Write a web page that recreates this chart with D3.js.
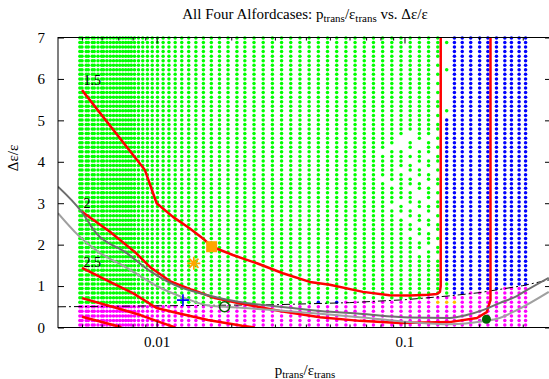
<!DOCTYPE html>
<html>
<head>
<meta charset="utf-8">
<script src="https://cdn.jsdelivr.net/npm/d3@7"></script>
<style>
  body { margin: 0; background: #fff; }
  text { font-family: "Liberation Serif", "DejaVu Serif", serif; }
</style>
</head>
<body>
<svg id="chart" width="549" height="379"></svg>
<script>
// grid of scanned (p/eps, deps/eps) cases
const rows = [0.06,0.17,0.28,0.39,0.50,0.61,0.72,0.83,0.94,1.05,1.16,1.27,1.38,1.49,1.60,1.71,
  1.82,1.93,2.04,2.15,2.26,2.37,2.48,2.59,2.70,2.81,2.92,3.03,3.14,3.25,3.36,3.47,3.58,3.69,3.80,
  3.91,4.02,4.13,4.24,4.35,4.46,4.57,4.68,4.79,4.90,5.01,5.12,5.23,5.34,5.45,5.56,5.67,5.78,5.89,
  6.00,6.11,6.22,6.33,6.44,6.55,6.66,6.77,6.88,6.99];
const denseCols = [0.0049,0.0050,0.0052,0.0053,0.0055,0.0056,0.0058,0.0060,0.0061,0.0063,0.0065,
  0.0067,0.0069,0.0071,0.0073,0.0075,0.0077,0.0079];
const mainCols = [0.00814,0.00845,0.00879,0.00918,0.00960,0.01008,0.01062,0.01121,0.01188,0.01263,
  0.01347,0.01440,0.01544,0.01662,0.01793,0.01941,0.02108,
  0.02269,0.02471,0.02691,0.02931,0.03192,0.03476,0.03786,0.04123,0.04491,0.04891,
  0.05327,0.05801,0.06318,0.06881,0.07494,0.08162,0.08889,0.09681,0.10543,0.11483,0.12506,0.1362];
const blueCols = [0.148,0.159,0.171,0.185,0.201,0.217,0.235,0.254,0.270,0.290,0.308];
const wallP = 0.140;          // red vertical of the 1.5 contour
const wallCol = 0.148, wallTop = 5.1;

// missing cases in the green field
const holes = [
  [0.1362,6.44],[0.1362,6.22],[0.1362,6.00],[0.1362,5.78],[0.1362,5.56],[0.1362,5.23],[0.1362,5.01],
  [0.1362,4.68],[0.1362,4.46],[0.1362,4.24],[0.1362,3.91],[0.1362,3.69],[0.1362,3.36],[0.1362,3.14],
  [0.1362,2.81],[0.1362,2.59],[0.1362,2.26],[0.1362,2.04],[0.1362,1.71],
  [0.1251,4.57],[0.1251,4.13],[0.1251,3.80],[0.1251,3.47],[0.1251,3.03],[0.1251,2.70],[0.1251,2.37],[0.1251,1.93],
  [0.1148,4.46],[0.1148,4.35],[0.1148,3.91],[0.1148,3.58],[0.1148,3.25],[0.1148,3.14],[0.1148,2.81],
  [0.1148,2.48],[0.1148,2.15],[0.1148,1.82],
  [0.1054,4.68],[0.1054,4.57],[0.1054,4.24],[0.1054,4.02],[0.1054,3.69],[0.1054,3.36],[0.1054,2.92],
  [0.1054,2.59],[0.1054,2.26],
  [0.0968,4.57],[0.0968,4.46],[0.0968,4.35],[0.0968,3.80],[0.0968,3.03],[0.0968,2.70],
  [0.0889,4.35],[0.0889,3.47],[0.0889,2.92],
  [0.0816,4.24],[0.0816,3.58]
];
// single cases with another class than their neighbours
const overrides = [
  [0.148,6.88,'g'],[0.148,6.22,'g'],[0.148,5.23,'g'],
  [0.148,0.83,'g'],[0.148,0.94,'g'],[0.148,1.05,'g'],
  [0.1362,0.61,'y'],[0.148,0.61,'y'],[0.159,0.61,'y'],
  [0.0449,0.61,'b'],[0.0533,0.61,'b']
];

// dash-dotted boundary
const dashLine = [[0.004,0.50],[0.03,0.55],[0.06,0.60],[0.10,0.67],[0.15,0.76],[0.20,0.84],[0.30,1.01],[0.39,1.16]];

// red contours
const contour15 = [[0.0050,5.73],[0.00897,3.80],[0.0100,3.00],[0.01164,2.67],[0.01362,2.39],[0.01537,2.15],
  [0.01671,1.95],[0.0203,1.75],[0.0254,1.55],[0.0323,1.31],[0.0415,1.10],[0.050,1.03],[0.068,0.86],
  [0.087,0.78],[0.105,0.77],[0.125,0.79],[0.135,0.81],[0.139,0.86],[0.140,1.0],[0.140,7.0]];
const contour2 = [[0.00498,2.80],[0.00648,2.31],[0.00818,1.82],[0.00949,1.44],[0.0113,1.12],[0.0139,0.91],
  [0.0172,0.71],[0.0213,0.59],[0.0314,0.40],[0.0456,0.25],[0.066,0.16],[0.0957,0.11],[0.152,0.13],
  [0.196,0.23],[0.2147,0.37],[0.2223,0.66],[0.2223,7.0]];
const contour25 = [[0.0050,1.44],[0.00648,1.10],[0.00802,0.83],[0.0100,0.47],[0.0121,0.35],[0.0161,0.18],
  [0.0221,0.04],[0.0249,0]];
const contour3 = [[0.0050,0.71],[0.0069,0.47],[0.0086,0.30],[0.0103,0.13],[0.0119,0]];
const contour35 = [[0.0050,0.26],[0.0071,0.02],[0.0072,0]];
const contourLabels = [[0.00507,5.96,'1.5'],[0.00507,3.0,'2'],[0.00507,1.58,'2.5']];

// gray curves
const grayDark = [[0.004,3.40],[0.00497,2.80],[0.00571,2.27],[0.00743,1.83],[0.00948,1.35],[0.0118,1.03],
  [0.0161,0.78],[0.0213,0.62],[0.0314,0.50],[0.0456,0.40],[0.066,0.33],[0.105,0.24],[0.152,0.23],
  [0.178,0.30],[0.207,0.42],[0.242,0.59],[0.284,0.76],[0.311,0.90],[0.382,1.20]];
const grayLight = [[0.004,2.76],[0.00482,2.23],[0.0058,1.83],[0.00743,1.47],[0.0101,0.99],[0.013,0.71],
  [0.0161,0.53],[0.0188,0.50],[0.0213,0.48],[0.0314,0.41],[0.0456,0.33],[0.066,0.25],[0.105,0.13],
  [0.152,0.08],[0.207,0.15],[0.242,0.23],[0.284,0.42],[0.382,0.86]];

// single marked cases
const orangeSquare = [0.01667,1.95];
const orangeStar = [0.01413,1.55];
const bluePlus = [0.01277,0.66];
const greenRing = [0.0188,0.50];
const greenDot = [0.2141,0.20];

const xMajor = [0.01, 0.1];
const yTicks = [0,1,2,3,4,5,6,7];

const svg = d3.select('#chart');
const x = d3.scaleLog().domain([0.004, 0.39]).range([58, 551]);
const y = d3.scaleLinear().domain([0, 7]).range([327.5, 37.5]);

svg.append('defs').append('clipPath').attr('id', 'clip')
  .append('rect').attr('x', 58).attr('y', 37.5).attr('width', 493).attr('height', 290);

// classify the grid
const edge = d3.scaleLinear().domain(dashLine.map(d => d[0])).range(dashLine.map(d => d[1]));
const near = (a, p, v) => Math.abs(a[0] - p) < 0.0008 && Math.abs(a[1] - v) < 0.02;
let dots = [];
let cols = [].concat(denseCols, mainCols, blueCols);
for (let p of cols) {
  for (let v of rows) {
    let ov = overrides.find(o => near(o, p, v));
    let c = null;
    if (ov) c = ov[2];
    else if (v <= edge(p) + 0.015) c = 'm';
    else if (p < wallP) c = holes.some(h => near(h, p, v)) ? null : 'g';
    else if (!(Math.abs(p - wallCol) < 0.001 && v > wallTop)) c = 'b';
    if (c) dots.push({p, v, c});
  }
}
const dotColor = {g: '#00ff00', b: '#0000ff', m: '#ff00ff', y: '#ffc000'};

svg.append('g').attr('class', 'dots')
  .selectAll('circle').data(dots).join('circle')
    .attr('cx', d => x(d.p)).attr('cy', d => y(d.v))
    .attr('r', 1.75).attr('fill', d => dotColor[d.c]);

let plotG = svg.append('g').attr('clip-path', 'url(#clip)');
let lin = d3.line().x(d => x(d[0])).y(d => y(d[1]));
let smooth = d3.line().x(d => x(d[0])).y(d => y(d[1])).curve(d3.curveMonotoneX);

plotG.append('path').attr('d', lin(dashLine))
  .attr('fill', 'none').attr('stroke', '#000').attr('stroke-width', 1)
  .attr('stroke-dasharray', '8,3,2,3');

for (let c of [contour15, contour2, contour25, contour3, contour35]) {
  plotG.append('path').attr('d', lin(c))
    .attr('fill', 'none').attr('stroke', '#ff0000').attr('stroke-width', 2.5)
    .attr('stroke-linejoin', 'round');
}
plotG.append('path').attr('d', smooth(grayLight))
  .attr('fill', 'none').attr('stroke', '#a0a0a0').attr('stroke-width', 2);
plotG.append('path').attr('d', smooth(grayDark))
  .attr('fill', 'none').attr('stroke', '#6e6e6e').attr('stroke-width', 2);

svg.append('g').selectAll('text').data(contourLabels).join('text')
  .attr('x', d => x(d[0])).attr('y', d => y(d[1]))
  .attr('dy', '0.35em').attr('font-size', 14).attr('fill', '#000')
  .text(d => d[2]);

// markers
svg.append('rect')
  .attr('x', x(orangeSquare[0]) - 5.5).attr('y', y(orangeSquare[1]) - 5.5)
  .attr('width', 11).attr('height', 11).attr('fill', '#ffa500');
svg.append('path')
  .attr('transform', `translate(${x(orangeStar[0])},${y(orangeStar[1])})`)
  .attr('d', 'M-6.5,0H6.5M0,-6.5V6.5M-4.6,-4.6L4.6,4.6M-4.6,4.6L4.6,-4.6')
  .attr('stroke', '#ffa500').attr('stroke-width', 1.8).attr('fill', 'none');
svg.append('path')
  .attr('transform', `translate(${x(bluePlus[0])},${y(bluePlus[1])})`)
  .attr('d', 'M-6,0H6M0,-6V6')
  .attr('stroke', '#0000ff').attr('stroke-width', 1.6).attr('fill', 'none');
svg.append('circle')
  .attr('cx', x(greenRing[0])).attr('cy', y(greenRing[1])).attr('r', 5)
  .attr('fill', 'none').attr('stroke', '#006400').attr('stroke-width', 1.5);
svg.append('circle')
  .attr('cx', x(greenDot[0])).attr('cy', y(greenDot[1])).attr('r', 4.5)
  .attr('fill', '#006400');

// axes, gnuplot style: ticks inside on all four sides
const xMinor = x.ticks().filter(t => !xMajor.some(m => Math.abs(m - t) < 1e-9) && t > 0.0041);
function styleAxis(g) {
  g.select('.domain').remove();
  g.selectAll('line').attr('stroke', '#000');
  g.selectAll('text').attr('font-family', '"Liberation Serif", serif').attr('font-size', 15).attr('fill', '#000');
}
svg.append('g').attr('transform', 'translate(0,327.5)')
  .call(d3.axisBottom(x).tickValues(xMajor).tickSize(-6).tickPadding(9).tickFormat(d3.format('~g')))
  .call(styleAxis);
svg.append('g').attr('transform', 'translate(0,327.5)')
  .call(d3.axisBottom(x).tickValues(xMinor).tickSize(-3).tickFormat(''))
  .call(styleAxis);
svg.append('g').attr('transform', 'translate(0,37.5)')
  .call(d3.axisTop(x).tickValues(xMajor).tickSize(-6).tickFormat(''))
  .call(styleAxis);
svg.append('g').attr('transform', 'translate(0,37.5)')
  .call(d3.axisTop(x).tickValues(xMinor).tickSize(-3).tickFormat(''))
  .call(styleAxis);
svg.append('g').attr('transform', 'translate(58,0)')
  .call(d3.axisLeft(y).tickValues(yTicks).tickSize(-6).tickPadding(13).tickFormat(d3.format('d')))
  .call(styleAxis);
svg.append('g').attr('transform', 'translate(551,0)')
  .call(d3.axisRight(y).tickValues(yTicks).tickSize(-6).tickFormat(''))
  .call(styleAxis);

svg.append('rect').attr('x', 58).attr('y', 37.5).attr('width', 493).attr('height', 290)
  .attr('fill', 'none').attr('stroke', '#000').attr('stroke-width', 1);

// texts with subscripts
function richText(sel, parts) {
  for (let [s, sub] of parts) {
    sel.append('tspan')
      .attr('dy', sub === 1 ? 3 : sub === -1 ? -3 : 0)
      .attr('font-size', sub === 1 ? 11 : null)
      .text(s);
  }
}
let title = svg.append('text').attr('x', 305).attr('y', 19)
  .attr('text-anchor', 'middle').attr('font-size', 15).attr('fill', '#000');
richText(title, [['All Four Alfordcases: p', 0], ['trans', 1], ['/ε', -1], ['trans', 1], [' vs. Δε/ε', -1]]);

let xl = svg.append('text').attr('x', 305).attr('y', 375)
  .attr('text-anchor', 'middle').attr('font-size', 15).attr('fill', '#000');
richText(xl, [['p', 0], ['trans', 1], ['/ε', -1], ['trans', 1]]);

svg.append('text').attr('transform', 'translate(18,158) rotate(-90)')
  .attr('text-anchor', 'middle').attr('font-size', 15).attr('fill', '#000')
  .text('Δε/ε');
</script>
</body>
</html>
